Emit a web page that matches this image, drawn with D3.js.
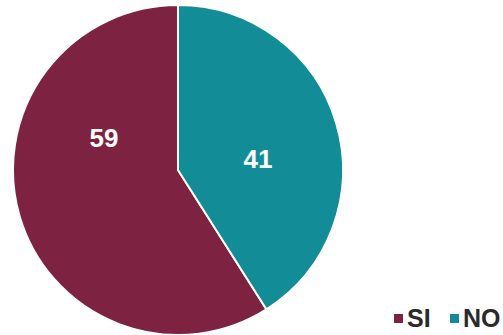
<!DOCTYPE html>
<html>
<head>
<meta charset="utf-8">
<script src="https://cdn.jsdelivr.net/npm/d3@7"></script>
<style>
  html, body { margin: 0; padding: 0; background: #fff; }
  text { font-family: "Liberation Sans", Arial, sans-serif; font-weight: 700; }
</style>
</head>
<body>
<div id="chart"></div>
<script>
const categories = ["SI", "NO"];
const values = [59, 41];
const colors = ["#7e2242", "#128c97"];
// small nudge of each value label (degrees) off the slice's mid angle
const labelTurn = [40, 8];

const width = 503, height = 335;
const cx = 178, cy = 170, radius = 165;

const svg = d3.select("#chart").append("svg")
    .attr("width", width)
    .attr("height", height);

const total = d3.sum(values);
const data = categories.map((c, i) => ({name: c, value: values[i], color: colors[i]}));

// SI runs counter-clockwise up to 12 o'clock, NO clockwise from it
const start = -2 * Math.PI * values[0] / total;
const pie = d3.pie()
    .sort(null)
    .value(d => d.value)
    .startAngle(start)
    .endAngle(start + 2 * Math.PI);

const arc = d3.arc().innerRadius(0).outerRadius(radius);

const g = svg.append("g").attr("transform", `translate(${cx},${cy})`);

const arcs = pie(data);

g.selectAll("path")
    .data(arcs)
    .enter().append("path")
    .attr("d", arc)
    .attr("fill", d => d.data.color)
    .attr("stroke", "#fff")
    .attr("stroke-width", 2);

const labelR = radius * 0.49;
g.selectAll("text.val")
    .data(arcs)
    .enter().append("text")
    .attr("class", "val")
    .attr("transform", (d, i) => {
        const a = (d.startAngle + d.endAngle) / 2 + labelTurn[i] * Math.PI / 180;
        return `translate(${labelR * Math.sin(a)},${-labelR * Math.cos(a)})`;
    })
    .attr("text-anchor", "middle")
    .attr("dy", "0.36em")
    .attr("fill", "#fff")
    .attr("font-size", 26)
    .text(d => d.data.value);

// legend
const legend = svg.append("g").attr("transform", "translate(394,318)");
const legendX = d3.scaleOrdinal().domain(categories).range([0, 56]);

const item = legend.selectAll("g")
    .data(data)
    .enter().append("g")
    .attr("transform", d => `translate(${legendX(d.name)},0)`);

item.append("rect")
    .attr("x", 0).attr("y", -4)
    .attr("width", 9).attr("height", 9)
    .attr("fill", d => d.color);

item.append("text")
    .attr("x", 13)
    .attr("y", 9)
    .attr("fill", "#2a2a2a")
    .attr("font-size", 25)
    .text(d => d.name);
</script>
</body>
</html>
